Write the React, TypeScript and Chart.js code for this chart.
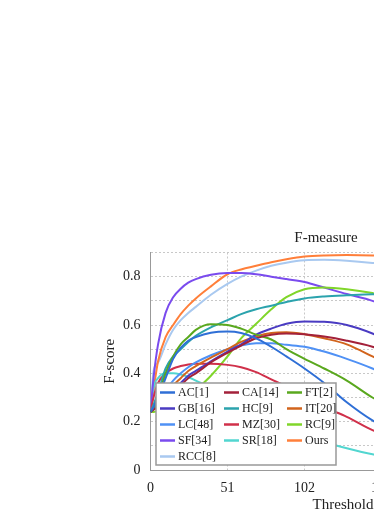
import React, { useEffect, useRef } from "react";
import { Chart, registerables } from "chart.js";

Chart.register(...registerables);

const THRESHOLDS = [0, 2, 5, 10, 15, 20, 25, 30, 40, 51, 60, 70, 80, 90, 102, 115, 130, 147, 170, 204, 230, 255];

const AC = [0.24, 0.26, 0.30, 0.38, 0.46, 0.505, 0.535, 0.55, 0.568, 0.573, 0.567, 0.545, 0.51, 0.47, 0.42, 0.36, 0.28, 0.205, 0.13, 0.06, 0.03, 0.01];
const CA = [0.24, 0.25, 0.26, 0.29, 0.32, 0.35, 0.38, 0.40, 0.445, 0.485, 0.515, 0.545, 0.56, 0.565, 0.562, 0.552, 0.535, 0.51, 0.46, 0.37, 0.29, 0.2];
const FT = [0.24, 0.25, 0.30, 0.40, 0.47, 0.52, 0.55, 0.58, 0.603, 0.60, 0.585, 0.56, 0.54, 0.50, 0.46, 0.42, 0.37, 0.30, 0.22, 0.12, 0.06, 0.01];
const GB = [0.24, 0.25, 0.27, 0.30, 0.33, 0.36, 0.39, 0.41, 0.45, 0.49, 0.52, 0.56, 0.585, 0.605, 0.615, 0.613, 0.60, 0.565, 0.50, 0.38, 0.27, 0.15];
const HC = [0.24, 0.27, 0.32, 0.42, 0.47, 0.50, 0.53, 0.555, 0.59, 0.62, 0.645, 0.665, 0.68, 0.695, 0.71, 0.718, 0.723, 0.727, 0.725, 0.70, 0.64, 0.5];
const IT = [0.24, 0.26, 0.28, 0.31, 0.35, 0.38, 0.41, 0.43, 0.465, 0.50, 0.53, 0.553, 0.567, 0.57, 0.562, 0.545, 0.52, 0.47, 0.40, 0.28, 0.18, 0.08];
const LC = [0.24, 0.26, 0.29, 0.33, 0.37, 0.40, 0.425, 0.445, 0.475, 0.50, 0.515, 0.525, 0.525, 0.518, 0.51, 0.49, 0.46, 0.42, 0.35, 0.25, 0.17, 0.1];
const MZ = [0.24, 0.30, 0.36, 0.40, 0.42, 0.43, 0.437, 0.44, 0.44, 0.435, 0.425, 0.405, 0.375, 0.345, 0.305, 0.26, 0.22, 0.165, 0.11, 0.05, 0.02, 0.01];
const RC = [0.24, 0.24, 0.245, 0.25, 0.26, 0.28, 0.30, 0.33, 0.39, 0.47, 0.545, 0.605, 0.665, 0.715, 0.748, 0.755, 0.748, 0.732, 0.70, 0.62, 0.52, 0.35];
const SF = [0.24, 0.38, 0.52, 0.65, 0.715, 0.75, 0.775, 0.79, 0.808, 0.815, 0.815, 0.81, 0.80, 0.79, 0.778, 0.755, 0.728, 0.70, 0.64, 0.55, 0.45, 0.3];
const SR = [0.24, 0.34, 0.38, 0.40, 0.40, 0.395, 0.385, 0.37, 0.34, 0.30, 0.27, 0.23, 0.20, 0.17, 0.14, 0.115, 0.09, 0.065, 0.04, 0.02, 0.01, 0.0];
const OURS = [0.24, 0.33, 0.45, 0.55, 0.60, 0.645, 0.68, 0.71, 0.76, 0.81, 0.83, 0.845, 0.86, 0.872, 0.883, 0.888, 0.89, 0.888, 0.88, 0.85, 0.8, 0.65];
const RCC = [0.24, 0.41, 0.445, 0.52, 0.58, 0.62, 0.65, 0.675, 0.725, 0.77, 0.80, 0.825, 0.845, 0.858, 0.868, 0.87, 0.866, 0.857, 0.84, 0.8, 0.74, 0.6];

const LABELS = ["AC[1]", "CA[14]", "FT[2]", "GB[16]", "HC[9]", "IT[20]", "LC[48]", "MZ[30]", "RC[9]", "SF[34]", "SR[18]", "Ours", "RCC[8]"];
const SERIES = [AC, CA, FT, GB, HC, IT, LC, MZ, RC, SF, SR, OURS, RCC];
const COLORS = ["#2f6fd6", "#a3213a", "#5aa81e", "#4a3bc2", "#2ba3ad", "#d2641c", "#4f91f5", "#d0304a", "#80d62a", "#7a4bee", "#52d6d0", "#ff7f3a", "#a9c9f0"];

const TITLE = "F-measure";
const FONT = "'Liberation Serif', 'Times New Roman', serif";

const titleAndLegend = {
  id: "titleAndLegend",
  afterDatasetsDraw(chart: any) {
    const { ctx, chartArea } = chart;
    ctx.save();
    // title, centred on the full canvas width
    ctx.font = `15px ${FONT}`;
    ctx.fillStyle = "#222";
    ctx.textAlign = "center";
    ctx.textBaseline = "middle";
    ctx.fillText(TITLE, chart.width / 2, chartArea.top - 14);

    // legend inside the plot, bottom left
    const boxLeft = chartArea.left + 5.5;
    const boxW = 180;
    const boxH = 82;
    const boxTop = chartArea.bottom - 5 - boxH;
    ctx.fillStyle = "#ffffff";
    ctx.fillRect(boxLeft, boxTop, boxW, boxH);
    ctx.strokeStyle = "#999999";
    ctx.lineWidth = 1.5;
    ctx.strokeRect(boxLeft, boxTop, boxW, boxH);
    ctx.font = `12px ${FONT}`;
    ctx.textBaseline = "middle";
    ctx.textAlign = "left";
    const colX = [4, 68, 131];
    chart.data.datasets.forEach((ds: any, i: number) => {
      const row = Math.floor(i / 3);
      const col = i % 3;
      const x = boxLeft + colX[col];
      const y = boxTop + 9.5 + row * 16;
      ctx.strokeStyle = ds.borderColor;
      ctx.lineWidth = 2.5;
      ctx.beginPath();
      ctx.moveTo(x, y);
      ctx.lineTo(x + 15, y);
      ctx.stroke();
      ctx.fillStyle = "#222";
      ctx.fillText(ds.label, x + 18, y + 0.5);
    });
    ctx.restore();
  },
};

export default function App() {
  const ref = useRef<HTMLCanvasElement>(null);
  useEffect(() => {
    if (!ref.current) return;
    Chart.defaults.font.family = FONT;
    Chart.defaults.color = "#222";
    const chart = new Chart(ref.current, {
      type: "line",
      data: {
        datasets: SERIES.map((s, i) => ({
          label: LABELS[i],
          data: THRESHOLDS.map((t, j) => ({ x: t, y: s[j] })),
          borderColor: COLORS[i],
          backgroundColor: COLORS[i],
          borderWidth: 2,
          pointRadius: 0,
          cubicInterpolationMode: "monotone" as const,
          fill: false,
        })),
      },
      options: {
        responsive: false,
        animation: false,
        layout: { padding: { left: 0, right: 15, top: 30.5, bottom: 0 } },
        plugins: {
          legend: { display: false },
          tooltip: { enabled: false },
          title: { display: false },
        },
        scales: {
          x: {
            type: "linear",
            min: 0,
            max: 255,
            ticks: { stepSize: 51, padding: 10, font: { size: 14 }, color: "#222", maxRotation: 0 },
            grid: { color: "#c8c8c8", drawTicks: false },
            border: { display: true, color: "#999", width: 1, dash: [2, 2] },
            title: { display: true, text: "Threshold", font: { size: 15 }, color: "#222", padding: { top: 2, bottom: 0 } },
            afterFit: (scale: any) => { scale.height = 44; },
          },
          y: {
            min: 0,
            max: 0.9,
            ticks: {
              stepSize: 0.1,
              padding: 10,
              font: { size: 14 },
              color: "#222",
              callback: (v: any) => {
                const n = Math.round(Number(v) * 10);
                if (n % 2 !== 0) return "";
                return n === 0 ? "0" : (n / 10).toFixed(1);
              },
            },
            grid: { color: "#c8c8c8", drawTicks: false },
            border: { display: true, color: "#999", width: 1, dash: [2, 2] },
            title: { display: true, text: "F-score", font: { size: 15 }, color: "#222", padding: { top: 5, bottom: 0 } },
            afterFit: (scale: any) => { scale.width = 54.5; },
          },
        },
      },
      plugins: [titleAndLegend],
    });
    return () => chart.destroy();
  }, []);

  return (
    <div style={{ position: "fixed", left: 0, top: 0, width: "100vw", height: "100vh", overflow: "hidden", background: "#fff" }}>
      <div style={{ position: "absolute", left: 96, top: 222 }}>
        <canvas ref={ref} width={460} height={292} style={{ display: "block" }} />
      </div>
    </div>
  );
}
